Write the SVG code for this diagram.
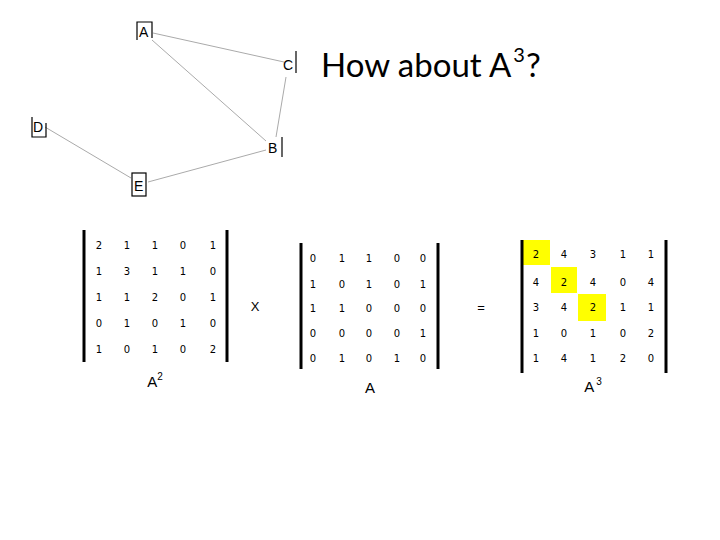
<svg xmlns="http://www.w3.org/2000/svg" width="720" height="540" viewBox="0 0 720 540">
<style>
.edge{stroke:#aaaaaa;stroke-width:1;fill:none}
.nb{stroke:#000;stroke-width:1.2;fill:none}
.nl{font-family:"Liberation Sans",Arial,sans-serif;font-size:14px;fill:#000}
.num{font-family:"DejaVu Sans",sans-serif;font-size:10px;fill:#000;text-anchor:middle}
.bar{stroke:#000;stroke-width:3}
.lbl{font-family:"Liberation Sans",Arial,sans-serif;font-size:15px;fill:#000;text-anchor:middle}
.sup{font-size:10px}
.hl{fill:#ffff00}
</style>
<rect width="720" height="540" fill="#fff"/>
<g id="connectors">
<line class="edge" x1="153" y1="33" x2="284" y2="62"/>
<line class="edge" x1="152" y1="40" x2="266" y2="141"/>
<line class="edge" x1="286" y1="77" x2="276" y2="137"/>
<line class="edge" x1="45" y1="127" x2="131" y2="178"/>
<line class="edge" x1="148" y1="182" x2="266" y2="150"/>
</g>
<g id="node-A">
<path class="nb" d="M137,40 V22 H152 V38"/>
<text class="nl" x="139" y="37">A</text>
</g>
<g id="node-C">
<line class="nb" x1="296" y1="51" x2="296" y2="73"/>
<text class="nl" x="283" y="70">C</text>
</g>
<g id="node-D">
<path class="nb" d="M32,117 V137 H46 V123"/>
<text class="nl" x="33" y="132">D</text>
</g>
<g id="node-B">
<line class="nb" x1="282" y1="137" x2="282" y2="157"/>
<text class="nl" x="268" y="153">B</text>
</g>
<g id="node-E">
<rect class="nb" x="132" y="173" width="14" height="23"/>
<text class="nl" x="134" y="191">E</text>
</g>
<text x="321" y="77" font-family="Lato, 'Open Sans', sans-serif" font-size="33" fill="#000">How about A<tspan dx="2" dy="-15" font-size="20">3</tspan><tspan dx="1" dy="15">?</tspan></text>
<g id="matrix-A2">
<line class="bar" x1="84" y1="230" x2="84" y2="362"/>
<line class="bar" x1="227" y1="230" x2="227" y2="362"/>
<g class="num">
<text x="99" y="249">2</text><text x="127" y="249">1</text><text x="155" y="249">1</text><text x="183" y="249">0</text><text x="213" y="249">1</text>
<text x="99" y="275">1</text><text x="127" y="275">3</text><text x="155" y="275">1</text><text x="183" y="275">1</text><text x="213" y="275">0</text>
<text x="99" y="301">1</text><text x="127" y="301">1</text><text x="155" y="301">2</text><text x="183" y="301">0</text><text x="213" y="301">1</text>
<text x="99" y="327">0</text><text x="127" y="327">1</text><text x="155" y="327">0</text><text x="183" y="327">1</text><text x="213" y="327">0</text>
<text x="99" y="353">1</text><text x="127" y="353">0</text><text x="155" y="353">1</text><text x="183" y="353">0</text><text x="213" y="353">2</text>
</g>
<text class="lbl" x="155" y="387">A<tspan class="sup" dy="-7">2</tspan></text>
</g>
<text x="255" y="311" font-family="'Liberation Sans',Arial,sans-serif" font-size="13" text-anchor="middle">X</text>
<g id="matrix-A">
<line class="bar" x1="301" y1="243" x2="301" y2="369"/>
<line class="bar" x1="438" y1="243" x2="438" y2="369"/>
<g class="num">
<text x="313" y="262">0</text><text x="342" y="262">1</text><text x="369" y="262">1</text><text x="397" y="262">0</text><text x="423" y="262">0</text>
<text x="313" y="288">1</text><text x="342" y="288">0</text><text x="369" y="288">1</text><text x="397" y="288">0</text><text x="423" y="288">1</text>
<text x="313" y="312">1</text><text x="342" y="312">1</text><text x="369" y="312">0</text><text x="397" y="312">0</text><text x="423" y="312">0</text>
<text x="313" y="337">0</text><text x="342" y="337">0</text><text x="369" y="337">0</text><text x="397" y="337">0</text><text x="423" y="337">1</text>
<text x="313" y="362">0</text><text x="342" y="362">1</text><text x="369" y="362">0</text><text x="397" y="362">1</text><text x="423" y="362">0</text>
</g>
<text class="lbl" x="370" y="393">A</text>
</g>
<text x="481" y="312" font-family="'Liberation Sans',Arial,sans-serif" font-size="13" text-anchor="middle">=</text>
<g id="matrix-A3">
<rect class="hl" x="523" y="240" width="27" height="25"/>
<rect class="hl" x="551" y="267" width="26" height="26"/>
<rect class="hl" x="578" y="294" width="28" height="27"/>
<line class="bar" x1="522" y1="240" x2="522" y2="373"/>
<line class="bar" x1="666" y1="240" x2="666" y2="373"/>
<g class="num">
<text x="536" y="258">2</text><text x="564" y="258">4</text><text x="593" y="258">3</text><text x="623" y="258">1</text><text x="651" y="258">1</text>
<text x="536" y="286">4</text><text x="564" y="286">2</text><text x="593" y="286">4</text><text x="623" y="286">0</text><text x="651" y="286">4</text>
<text x="536" y="311">3</text><text x="564" y="311">4</text><text x="593" y="311">2</text><text x="623" y="311">1</text><text x="651" y="311">1</text>
<text x="536" y="337">1</text><text x="564" y="337">0</text><text x="593" y="337">1</text><text x="623" y="337">0</text><text x="651" y="337">2</text>
<text x="536" y="362">1</text><text x="564" y="362">4</text><text x="593" y="362">1</text><text x="623" y="362">2</text><text x="651" y="362">0</text>
</g>
<text class="lbl" x="593" y="392">A<tspan class="sup" dy="-7" dx="2">3</tspan></text>
</g>
</svg>
